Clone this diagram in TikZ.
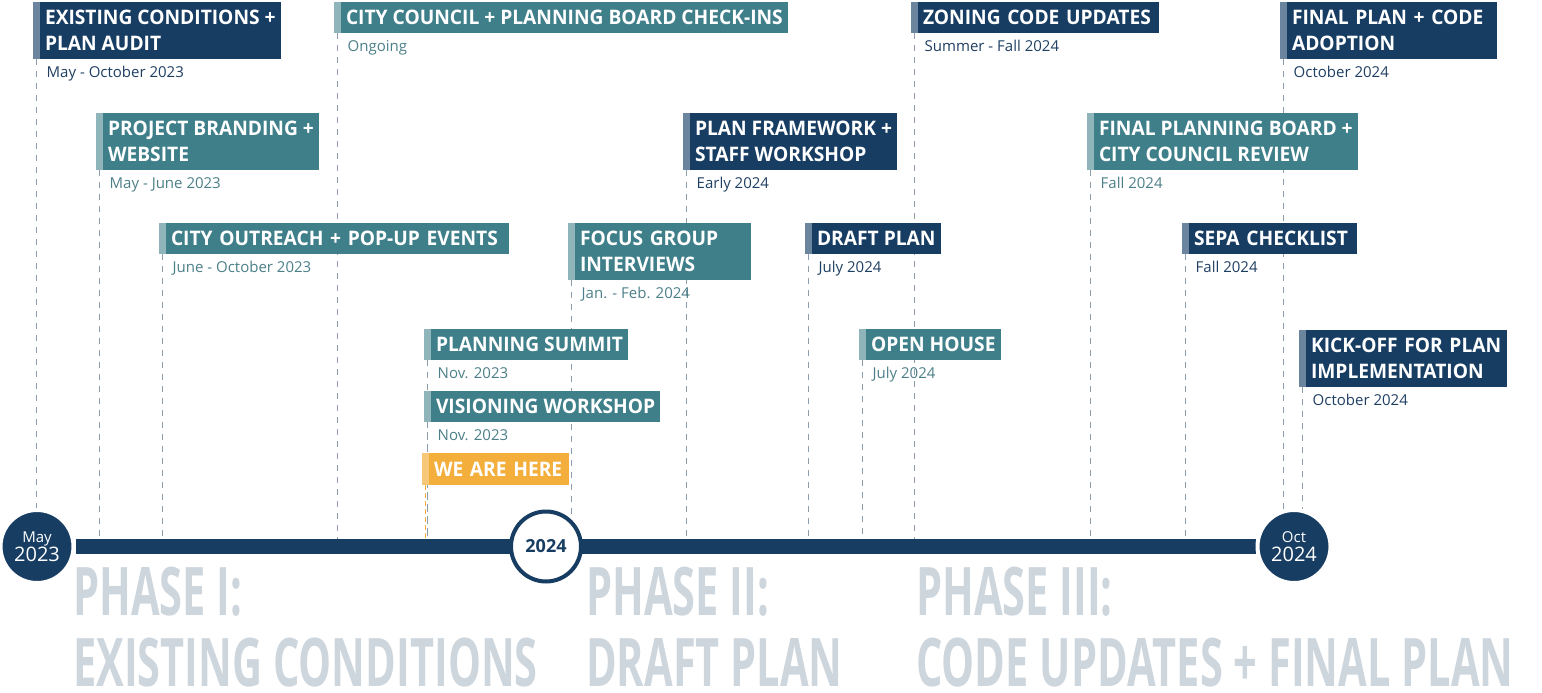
\documentclass[tikz,border=0pt]{standalone}
\usepackage{fontspec}
\setmainfont{Open Sans}
\newfontfamily\titlefont[FakeStretch=0.96]{Open Sans}
\newfontfamily\phasefont[FakeStretch=0.62]{Open Sans}
\usetikzlibrary{positioning, backgrounds}

\definecolor{navy}{HTML}{173D63}
\definecolor{navystripe}{HTML}{6C859E}
\definecolor{teal}{HTML}{3F7F8A}
\definecolor{tealstripe}{HTML}{8FB5BB}
\definecolor{here}{HTML}{F3AE3C}
\definecolor{herestripe}{HTML}{F7C77A}
\definecolor{navytext}{HTML}{1F3F62}
\definecolor{tealtext}{HTML}{4C7F88}
\definecolor{phasegray}{HTML}{CDD5DD}
\definecolor{guidegray}{HTML}{8E9DAB}

\begin{document}
\begin{tikzpicture}[
            x=1pt, y=-1pt,
            box/.style = {anchor=north west, inner xsep=5pt, inner ysep=0pt, outer sep=0pt, align=left, text=white, font=\titlefont\bfseries\fontsize{20}{26}\selectfont},
            stripe/.style = {inner sep=0pt, outer sep=0pt, minimum width=7pt},
            navybox/.style = {box, fill=navy, minimum height=#1, label={[stripe, fill=navystripe, minimum height=#1]west:{}}},
            navybox/.default = 31pt,
            tealbox/.style = {box, fill=teal, minimum height=#1, label={[stripe, fill=tealstripe, minimum height=#1]west:{}}},
            tealbox/.default = 31pt,
            herebox/.style = {box, fill=here, minimum height=32pt, label={[stripe, fill=herestripe, minimum height=32pt]west:{}}},
            date/.style = {anchor=base west, inner sep=0pt, font=\fontsize{15}{18}\selectfont},
            navydate/.style = {date, text=navytext},
            tealdate/.style = {date, text=tealtext},
            guide/.style = {guidegray, line width=0.9pt, dash pattern=on 6pt off 6pt},
            hereguide/.style = {here, line width=1.2pt, dash pattern=on 5pt off 3pt},
            bar/.style = {navy, line width=15pt},
            endcircle/.style = {circle, fill=navy, draw=white, line width=4pt, minimum size=73pt, inner sep=0pt, text=white, align=center, font=\fontsize{20}{19}\selectfont},
            midcircle/.style = {circle, fill=white, draw=navy, line width=4pt, minimum size=70pt, inner sep=0pt, text=navy, font=\bfseries\fontsize{18}{20}\selectfont},
            phase/.style = {anchor=north west, inner sep=0pt, align=left, text=phasegray, font=\phasefont\bfseries\fontsize{67}{71}\selectfont},
        ]

\useasboundingbox (0,0) rectangle (1542,693);

% timeline circles
\node[endcircle] (may) at (37,546.5) {{\fontsize{15}{19}\selectfont May}\\2023};
\node[midcircle] (mid) at (546,546.5) {2024};
\node[endcircle] (oct) at (1294,546.5) {{\fontsize{15}{19}\selectfont Oct}\\2024};

% events
\node[navybox=57pt] (b1) at (40,2) {EXISTING CONDITIONS +\\PLAN AUDIT};
\node[tealbox] (b2) at (341,2) {CITY COUNCIL + PLANNING BOARD CHECK-INS};
\node[navybox, text width=231pt] (b3) at (918,2) {ZONING CODE UPDATES};
\node[navybox=57pt, text width=200pt] (b4) at (1287,2) {FINAL PLAN + CODE\\ADOPTION};
\node[tealbox=57pt] (b5) at (103,113) {PROJECT BRANDING +\\WEBSITE};
\node[navybox=57pt] (b6) at (690,113) {PLAN FRAMEWORK +\\STAFF WORKSHOP};
\node[tealbox=57pt] (b7) at (1094,113) {FINAL PLANNING BOARD +\\CITY COUNCIL REVIEW};
\node[tealbox, text width=333pt] (b8) at (166,223) {CITY OUTREACH + POP-UP EVENTS};
\node[tealbox=57pt, text width=166pt] (b9) at (575,223) {FOCUS GROUP\\INTERVIEWS};
\node[navybox] (b10) at (812,223) {DRAFT PLAN};
\node[navybox, text width=158pt] (b11) at (1189,223) {SEPA CHECKLIST};
\node[tealbox] (b12) at (431,329) {PLANNING SUMMIT};
\node[tealbox] (b13) at (866,329) {OPEN HOUSE};
\node[navybox=57pt, text width=191pt] (b14) at (1306,330) {KICK-OFF FOR PLAN\\IMPLEMENTATION};
\node[tealbox] (b15) at (431,391) {VISIONING WORKSHOP};
\node[herebox, text width=130pt] (b16) at (429,453) {WE ARE HERE};

% dates
\node[navydate] (d1) at ([xshift=6.5pt,yshift=-18.5pt]b1.south west) {May - October 2023};
\node[tealdate] (d2) at ([xshift=6.5pt,yshift=-18.5pt]b2.south west) {Ongoing};
\node[navydate] (d3) at ([xshift=6.5pt,yshift=-18.5pt]b3.south west) {Summer - Fall 2024};
\node[navydate] (d4) at ([xshift=6.5pt,yshift=-18.5pt]b4.south west) {October 2024};
\node[tealdate] (d5) at ([xshift=6.5pt,yshift=-18.5pt]b5.south west) {May - June 2023};
\node[navydate] (d6) at ([xshift=6.5pt,yshift=-18.5pt]b6.south west) {Early 2024};
\node[tealdate] (d7) at ([xshift=6.5pt,yshift=-18.5pt]b7.south west) {Fall 2024};
\node[tealdate] (d8) at ([xshift=6.5pt,yshift=-18.5pt]b8.south west) {June - October 2023};
\node[tealdate] (d9) at ([xshift=6.5pt,yshift=-18.5pt]b9.south west) {Jan. - Feb. 2024};
\node[navydate] (d10) at ([xshift=6.5pt,yshift=-18.5pt]b10.south west) {July 2024};
\node[navydate] (d11) at ([xshift=6.5pt,yshift=-18.5pt]b11.south west) {Fall 2024};
\node[tealdate] (d12) at ([xshift=6.5pt,yshift=-18.5pt]b12.south west) {Nov. 2023};
\node[tealdate] (d13) at ([xshift=6.5pt,yshift=-18.5pt]b13.south west) {July 2024};
\node[navydate] (d14) at ([xshift=6.5pt,yshift=-18.5pt]b14.south west) {October 2024};
\node[tealdate] (d15) at ([xshift=6.5pt,yshift=-18.5pt]b15.south west) {Nov. 2023};

% phases
\node[phase] (p1) at (73,567) {PHASE I:\\EXISTING CONDITIONS};
\node[phase] (p2) at (586,567) {PHASE II:\\DRAFT PLAN};
\node[phase] (p3) at (916,567) {PHASE III:\\CODE UPDATES + FINAL PLAN};

\begin{scope}[on background layer]
\foreach \b in {b1,b2,b3,b4,b5,b6,b7,b8,b9,b10,b11,b12,b13,b14,b15}
    \draw[guide] ([xshift=-3.5pt]\b.south west) -- ([xshift=-3.5pt]\b.south west |- may);
\draw[hereguide] ([xshift=-3.5pt]b16.south west) -- ([xshift=-3.5pt]b16.south west |- may);
\draw[bar] (may) -- (oct);
\end{scope}

\end{tikzpicture}
\end{document}
